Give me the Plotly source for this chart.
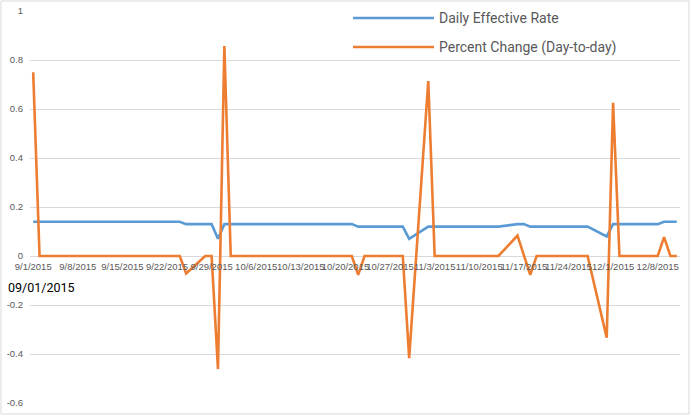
import plotly.graph_objects as go

# Business days shown in the chart (weekends / holidays absent)
dates = [
    "2015-09-01", "2015-09-02", "2015-09-03", "2015-09-04",
    "2015-09-08", "2015-09-09", "2015-09-10", "2015-09-11",
    "2015-09-14", "2015-09-15", "2015-09-16", "2015-09-17", "2015-09-18",
    "2015-09-21", "2015-09-22", "2015-09-23", "2015-09-24", "2015-09-25",
    "2015-09-28", "2015-09-29", "2015-09-30",
    "2015-10-01", "2015-10-02",
    "2015-10-05", "2015-10-06", "2015-10-07", "2015-10-08", "2015-10-09",
    "2015-10-13", "2015-10-14", "2015-10-15", "2015-10-16",
    "2015-10-19", "2015-10-20", "2015-10-21", "2015-10-22", "2015-10-23",
    "2015-10-26", "2015-10-27", "2015-10-28", "2015-10-29", "2015-10-30",
    "2015-11-02", "2015-11-03", "2015-11-04", "2015-11-05", "2015-11-06",
    "2015-11-09", "2015-11-10", "2015-11-12", "2015-11-13",
    "2015-11-16", "2015-11-17", "2015-11-18", "2015-11-19", "2015-11-20",
    "2015-11-23", "2015-11-24", "2015-11-25", "2015-11-27",
    "2015-11-30",
    "2015-12-01", "2015-12-02", "2015-12-03", "2015-12-04",
    "2015-12-07", "2015-12-08", "2015-12-09", "2015-12-10", "2015-12-11",
]

effective_rate = [
    0.14, 0.14, 0.14, 0.14,
    0.14, 0.14, 0.14, 0.14,
    0.14, 0.14, 0.14, 0.14, 0.14,
    0.14, 0.14, 0.14, 0.14, 0.13,
    0.13, 0.13, 0.07,
    0.13, 0.13,
    0.13, 0.13, 0.13, 0.13, 0.13,
    0.13, 0.13, 0.13, 0.13,
    0.13, 0.13, 0.13, 0.12, 0.12,
    0.12, 0.12, 0.12, 0.12, 0.07,
    0.12, 0.12, 0.12, 0.12, 0.12,
    0.12, 0.12, 0.12, 0.12,
    0.13, 0.13, 0.12, 0.12, 0.12,
    0.12, 0.12, 0.12, 0.12,
    0.08,
    0.13, 0.13, 0.13, 0.13,
    0.13, 0.13, 0.14, 0.14, 0.14,
]

pct_change = [
    0.75, 0.0, 0.0, 0.0,
    0.0, 0.0, 0.0, 0.0,
    0.0, 0.0, 0.0, 0.0, 0.0,
    0.0, 0.0, 0.0, 0.0, -0.0714,
    0.0, 0.0, -0.4615,
    0.8571, 0.0,
    0.0, 0.0, 0.0, 0.0, 0.0,
    0.0, 0.0, 0.0, 0.0,
    0.0, 0.0, 0.0, -0.0769, 0.0,
    0.0, 0.0, 0.0, 0.0, -0.4167,
    0.7143, 0.0, 0.0, 0.0, 0.0,
    0.0, 0.0, 0.0, 0.0,
    0.0833, 0.0, -0.0769, 0.0, 0.0,
    0.0, 0.0, 0.0, 0.0,
    -0.3333,
    0.625, 0.0, 0.0, 0.0,
    0.0, 0.0, 0.0769, 0.0, 0.0,
]

tick_dates = [
    "2015-09-01", "2015-09-08", "2015-09-15", "2015-09-22", "2015-09-29",
    "2015-10-06", "2015-10-13", "2015-10-20", "2015-10-27", "2015-11-03",
    "2015-11-10", "2015-11-17", "2015-11-24", "2015-12-01", "2015-12-08",
]
tick_labels = [
    "9/1/2015", "9/8/2015", "9/15/2015", "9/22/2015", "9/29/2015",
    "10/6/2015", "10/13/2015", "10/20/2015", "10/27/2015", "11/3/2015",
    "11/10/2015", "11/17/2015", "11/24/2015", "12/1/2015", "12/8/2015",
]
y_ticks = [-0.6, -0.4, -0.2, 0, 0.2, 0.4, 0.6, 0.8, 1]
y_tick_labels = ["-0.6", "-0.4", "-0.2", "0", "0.2", "0.4", "0.6", "0.8", "1"]

series_names = ["Daily Effective Rate", "Percent Change (Day-to-day)"]
series_colors = ["#5B9BD5", "#ED7D31"]

fig = go.Figure()
fig.add_trace(go.Scatter(x=dates, y=effective_rate, mode="lines", name=series_names[0],
                         line=dict(color=series_colors[0], width=2.6)))
fig.add_trace(go.Scatter(x=dates, y=pct_change, mode="lines", name=series_names[1],
                         line=dict(color=series_colors[1], width=2.6)))

W, H = 692, 416
L, R, T, B = 30, 12, 11, 13
pw, ph = W - L - R, H - T - B


def px_x(px):
    return (px - L) / pw


def px_y(py):
    return (H - B - py) / ph


# manual legend (long line samples as in the original)
legend_rows = [18, 47]
for name, color, py in zip(series_names, series_colors, legend_rows):
    fig.add_shape(type="line", xref="paper", yref="paper",
                  x0=px_x(353), x1=px_x(434), y0=px_y(py), y1=px_y(py),
                  line=dict(color=color, width=2.6))
    fig.add_annotation(xref="paper", yref="paper", x=px_x(437), y=px_y(py),
                       text=name, showarrow=False, xanchor="left", yanchor="middle",
                       font=dict(family="Roboto", size=14, color="#595959"))

# stray text box
fig.add_annotation(xref="paper", yref="paper", x=px_x(6), y=px_y(287),
                   text="09/01/2015", showarrow=False, xanchor="left", yanchor="middle",
                   font=dict(family="Roboto", size=12.5, color="#000000"))

# chart-area border
fig.add_shape(type="rect", xref="paper", yref="paper",
              x0=px_x(1), x1=px_x(689), y0=px_y(414), y1=px_y(1),
              line=dict(color="#D9D9D9", width=1), fillcolor="rgba(0,0,0,0)", layer="below")

fig.update_layout(
    width=W, height=H,
    margin=dict(l=L, r=R, t=T, b=B),
    paper_bgcolor="white", plot_bgcolor="white",
    showlegend=False,
    xaxis=dict(
        type="date",
        range=["2015-08-31 12:00", "2015-12-11 12:00"],
        tickvals=tick_dates, ticktext=tick_labels,
        showgrid=False, zeroline=False, showline=False, ticks="",
        anchor="free", position=0.6 / 1.6,
        tickangle=0, automargin=False,
        tickfont=dict(family="Liberation Sans", size=9.5, color="#595959"),
        ticklabelstandoff=3,
    ),
    yaxis=dict(
        range=[-0.6, 1],
        tickvals=y_ticks, ticktext=y_tick_labels,
        showgrid=True, gridcolor="#D9D9D9", gridwidth=1,
        zeroline=True, zerolinecolor="#D9D9D9", zerolinewidth=1,
        showline=False, ticks="", automargin=False,
        tickfont=dict(family="Liberation Sans", size=9.5, color="#595959"),
        ticklabelstandoff=6,
    ),
)

fig.write_html(
    "out.html",
    config={"displayModeBar": False},
    post_script="document.body.style.margin='0';document.body.style.padding='0';",
)
